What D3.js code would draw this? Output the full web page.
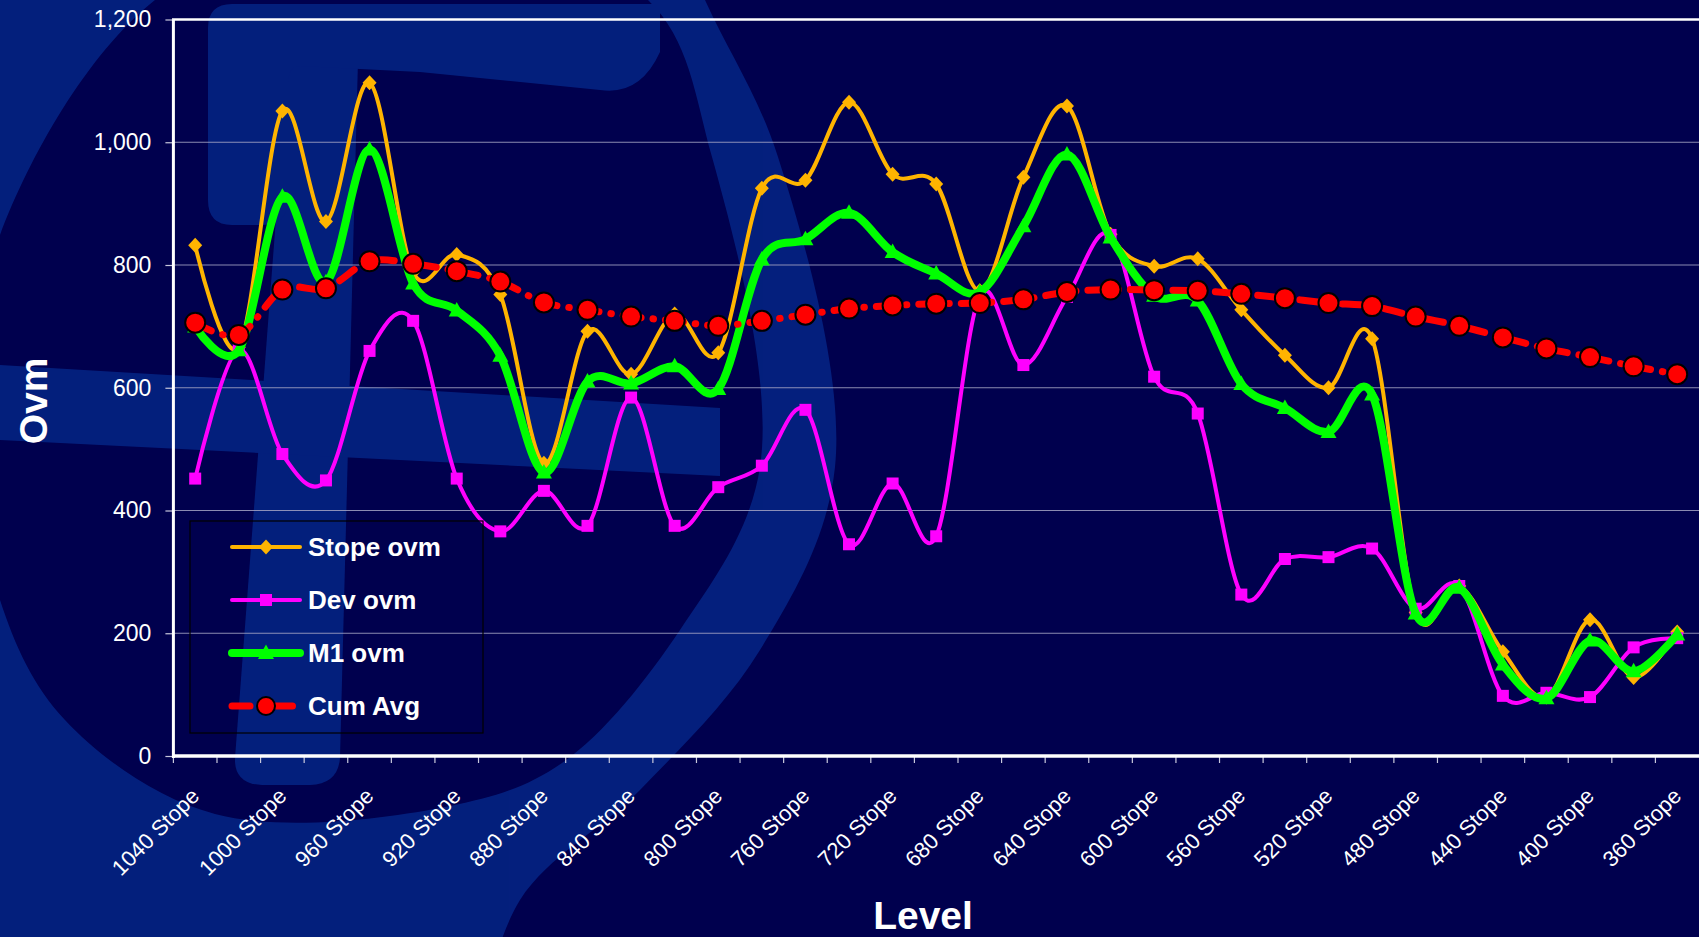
<!DOCTYPE html>
<html><head><meta charset="utf-8">
<script src="https://cdn.jsdelivr.net/npm/d3@7"></script>
<style>html,body{margin:0;padding:0;background:#00004e;overflow:hidden}</style>
</head><body><svg id="c" width="1699" height="937"></svg>
<script>
const categories = ["1040 Stope","1020 Stope","1000 Stope","980 Stope","960 Stope","940 Stope","920 Stope","900 Stope","880 Stope","860 Stope","840 Stope","820 Stope","800 Stope","780 Stope","760 Stope","740 Stope","720 Stope","700 Stope","680 Stope","660 Stope","640 Stope","620 Stope","600 Stope","580 Stope","560 Stope","540 Stope","520 Stope","500 Stope","480 Stope","460 Stope","440 Stope","420 Stope","400 Stope","380 Stope","360 Stope"];
const stopeOvm = [832, 666, 1051, 871, 1097, 788, 817, 752, 477, 692, 622, 720, 657, 925, 938, 1065, 948, 932, 758, 943, 1059, 850, 798, 810, 727, 653, 600, 680, 234, 277, 170, 96, 222, 128, 202];
const devOvm = [452, 662, 492, 449, 660, 709, 452, 366, 432, 375, 584, 375, 438, 473, 564, 345, 444, 358, 750, 637, 748, 849, 618, 558, 263, 321, 324, 338, 240, 277, 98, 103, 96, 177, 192];
const m1Ovm = [700, 661, 911, 772, 988, 770, 726, 652, 462, 610, 607, 635, 598, 809, 842, 885, 821, 786, 756, 863, 980, 845, 750, 742, 606, 567, 528, 589, 232, 274, 149, 94, 188, 138, 198];
const cumAvg = [706, 686, 760, 762, 806, 802, 790, 773, 739, 727, 716, 709, 701, 709, 719, 729, 734, 737, 738, 744, 756, 760, 759, 758, 753, 746, 738, 733, 716, 701, 682, 664, 650, 635, 622];
const yTicks = [0, 200, 400, 600, 800, 1000, 1200];
const seriesNames = ["Stope ovm", "Dev ovm", "M1 ovm", "Cum Avg"];
const yTitle = "Ovm";
const xTitle = "Level";

const W = 1699, H = 937;
const FONT = "'Liberation Sans', Arial, sans-serif";
const svg = d3.select("#c");
svg.append("rect").attr("width", W).attr("height", H).attr("fill", "#00004e");

// ---- faint background logo (decoration) ----
const wm = svg.append("g").attr("fill", "#05288a").attr("opacity", 0.78);
const outerPath = d3.line().curve(d3.curveCatmullRom.alpha(0.5))(
  [[640,-150],[705,0],[778,157],[835,467],[760,650],[640,790],[520,900],[470,1060]]) + "L-150,1060L-150,-150Z";
const innerPath = d3.line().curve(d3.curveCatmullRomClosed.alpha(0.5))(
  [[155,0],[400,-90],[648,0],[712,157],[760,467],[680,630],[562,763],[450,806],[215,814],[65,720],[0,600],[-25,420],[0,235]]);
wm.append("path").attr("d", outerPath + innerPath).attr("fill-rule", "evenodd");
// stem
wm.append("path").attr("d", "M288,60 L358,60 L340,758 Q338,784 310,785 L262,785 Q234,784 235,758 Z");
// top bar
wm.append("path").attr("d", "M232,4 L660,4 L660,52 Q640,96 600,90 L420,72 L300,66 Q288,66 288,84 L288,200 Q288,225 262,225 L232,225 Q208,225 208,200 L208,28 Q208,4 232,4 Z");
// bottom bar
wm.append("path").attr("d", "M0,365 L720,408 L720,476 L0,440 Z");

// ---- scales ----
const x = d3.scaleBand().domain(categories).range([173.4, 1699]).padding(0);
const y = d3.scaleLinear().domain([0, 1200]).range([756, 19.5]);
const xc = d => x(d) + x.bandwidth() / 2;

// gridlines
svg.append("g").selectAll("line").data(yTicks.filter(v => v > 0 && v < 1200)).join("line")
  .attr("x1", 173.4).attr("x2", W).attr("y1", d => y(d)).attr("y2", d => y(d))
  .attr("stroke", "#a4a4c4").attr("stroke-width", 1.2).attr("opacity", 0.85);
// top border
svg.append("line").attr("x1", 172).attr("x2", W).attr("y1", y(1200)).attr("y2", y(1200))
  .attr("stroke", "#ffffff").attr("stroke-width", 2.5);

// y axis
const yAxis = svg.append("g").attr("transform", "translate(173.4,0)")
  .call(d3.axisLeft(y).tickValues(yTicks).tickSize(8).tickPadding(14).tickFormat(d3.format(",")));
yAxis.select(".domain").remove();
yAxis.selectAll(".tick line").attr("stroke", "#c8c8dc").attr("stroke-width", 1.2);
yAxis.selectAll("text").attr("fill", "#ffffff").style("font-family", FONT).style("font-size", "23px");

// x axis
const xAxis = svg.append("g").attr("transform", "translate(0,756)")
  .call(d3.axisBottom(x).tickSize(0).tickFormat((d, i) => i % 2 === 0 ? d : ""));
xAxis.select(".domain").remove();
xAxis.selectAll("text")
  .attr("fill", "#ffffff").style("font-family", FONT).style("font-size", "22px")
  .attr("text-anchor", "end").attr("x", 0).attr("y", 36).attr("dy", "0.35em")
  .attr("transform", "rotate(-45,0,36)");
// x tick marks at category boundaries
svg.append("g").selectAll("line").data(categories).join("line")
  .attr("x1", d => x(d)).attr("x2", d => x(d)).attr("y1", 756).attr("y2", 763)
  .attr("stroke", "#c8c8dc").attr("stroke-width", 1.2);

// axis lines
svg.append("line").attr("x1", 173.4).attr("x2", 173.4).attr("y1", y(1200)).attr("y2", 758)
  .attr("stroke", "#ffffff").attr("stroke-width", 3);
svg.append("line").attr("x1", 172).attr("x2", W).attr("y1", 756).attr("y2", 756)
  .attr("stroke", "#ffffff").attr("stroke-width", 3.5);

// ---- series ----
const curve = d3.curveCardinal.tension(0);
const mkLine = vals => d3.line().x((v, i) => xc(categories[i])).y(v => y(v)).curve(curve)(vals);

const diamond = "M0,-7.5L7,0L0,7.5L-7,0Z";
const square = "M-6,-6H6V6H-6Z";
const triangle = "M0,-8.5L8,6L-8,6Z";

function drawSeries(vals, color, width, markerPath, dash) {
  const g = svg.append("g");
  const p = g.append("path").attr("d", mkLine(vals)).attr("fill", "none")
    .attr("stroke", color).attr("stroke-width", width).attr("stroke-linejoin", "round");
  if (dash) p.attr("stroke-dasharray", dash).attr("stroke-linecap", "round");
  if (markerPath) {
    g.selectAll("path.m").data(vals).join("path").attr("class", "m")
      .attr("d", markerPath).attr("fill", color)
      .attr("transform", (v, i) => `translate(${xc(categories[i])},${y(v)})`);
  } else {
    g.selectAll("circle").data(vals).join("circle")
      .attr("cx", (v, i) => xc(categories[i])).attr("cy", v => y(v)).attr("r", 10)
      .attr("fill", color).attr("stroke", "#000").attr("stroke-width", 2);
  }
}
drawSeries(stopeOvm, "#ffb400", 4, diamond);
drawSeries(devOvm, "#ff00ff", 4, square);
drawSeries(m1Ovm, "#00ff00", 8, triangle);
drawSeries(cumAvg, "#ff0000", 7, null, "18,12,0.5,12");

// ---- legend ----
const lg = svg.append("g");
lg.append("rect").attr("x", 190).attr("y", 521).attr("width", 293).attr("height", 212)
  .attr("fill", "none").attr("stroke", "#000000").attr("stroke-width", 1.2);
const lgColors = ["#ffb400", "#ff00ff", "#00ff00", "#ff0000"];
const lgWidths = [4, 4, 8, 7];
const lgMarkers = [diamond, square, triangle, null];
seriesNames.forEach((name, i) => {
  const yy = 547 + i * 53;
  const ln = lg.append("line").attr("x1", 232).attr("x2", 300).attr("y1", yy).attr("y2", yy)
    .attr("stroke", lgColors[i]).attr("stroke-width", lgWidths[i]).attr("stroke-linecap", "round");
  if (i === 3) {
    ln.attr("stroke-dasharray", "18,12,0.5,12");
    lg.append("circle").attr("cx", 266).attr("cy", yy).attr("r", 9)
      .attr("fill", "#ff0000").attr("stroke", "#000").attr("stroke-width", 2);
  } else {
    lg.append("path").attr("d", lgMarkers[i]).attr("fill", lgColors[i])
      .attr("transform", `translate(266,${yy})`);
  }
  lg.append("text").attr("x", 308).attr("y", yy).attr("dy", "0.35em")
    .attr("fill", "#ffffff").style("font-family", FONT).style("font-size", "26px")
    .style("font-weight", "bold").text(name);
});

// ---- titles ----
svg.append("text").attr("x", 923).attr("y", 929).attr("text-anchor", "middle")
  .attr("fill", "#ffffff").style("font-family", FONT).style("font-size", "39px").style("font-weight", "bold")
  .text(xTitle);
svg.append("text").attr("transform", "translate(47,401) rotate(-90)").attr("text-anchor", "middle")
  .attr("fill", "#ffffff").style("font-family", FONT).style("font-size", "39px").style("font-weight", "bold")
  .text(yTitle);
</script></body></html>
